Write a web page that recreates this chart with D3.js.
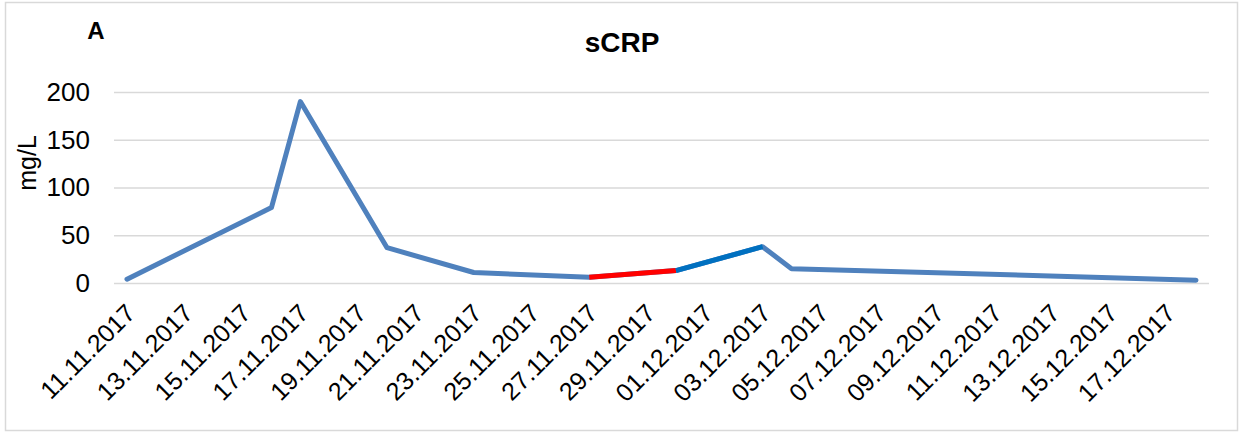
<!DOCTYPE html>
<html>
<head>
<meta charset="utf-8">
<script src="https://cdn.jsdelivr.net/npm/d3@7"></script>
<style>
  body { margin: 0; background: #fff; }
  svg { font-family: "Liberation Sans", Arial, sans-serif; }
</style>
</head>
<body>
<svg id="chart" width="1243" height="433"></svg>
<script>
// sampling dates and sCRP values (mg/L)
const dates = ["11.11.2017", "16.11.2017", "17.11.2017", "20.11.2017", "23.11.2017",
               "27.11.2017", "30.11.2017", "03.12.2017", "04.12.2017", "18.12.2017"];
const values = [4, 79, 190, 37, 11, 6, 13, 38, 15, 3];
// colour of each segment i -> i+1
const segColors = ["#4F81BD", "#4F81BD", "#4F81BD", "#4F81BD", "#4F81BD",
                   "#FF0000", "#0070C0", "#4F81BD", "#4F81BD"];
const yTicks = [0, 50, 100, 150, 200];
const axisStart = "11.11.2017", axisEnd = "18.12.2017";

const parse = d3.timeParse("%d.%m.%Y");
const fmt = d3.timeFormat("%d.%m.%Y");

const svg = d3.select("#chart");

// outer frame
svg.append("rect")
    .attr("x", 5.5).attr("y", 2.5)
    .attr("width", 1232).attr("height", 428)
    .attr("fill", "#fff")
    .attr("stroke", "#D9D9D9")
    .attr("stroke-width", 1.5);

const x = d3.scaleTime()
    .domain([parse(axisStart), parse(axisEnd)])
    .range([127, 1196]);

const y = d3.scaleLinear()
    .domain([0, 200])
    .range([283, 92]);

// gridlines + y labels
const yAxis = svg.append("g")
    .attr("transform", "translate(114,0)")
    .call(d3.axisLeft(y).tickValues(yTicks).tickSize(-1095).tickPadding(24));
yAxis.select(".domain").remove();
yAxis.selectAll("line").attr("stroke", "#D9D9D9").attr("stroke-width", 1.5);
yAxis.selectAll("text")
    .attr("font-size", 26)
    .attr("fill", "#000")
    .attr("font-family", "Liberation Sans, Arial, sans-serif");

// x labels every 2 days
const tickDates = d3.timeDay.range(parse(axisStart), parse(axisEnd), 2);
svg.append("g").selectAll("text")
    .data(tickDates)
    .join("text")
    .attr("transform", d => `translate(${x(d) - 3},${302}) rotate(-45)`)
    .attr("text-anchor", "end")
    .attr("dy", "0.72em")
    .attr("font-size", 25)
    .attr("fill", "#000")
    .text(d => fmt(d));

// line
const pts = dates.map((d, i) => [x(parse(d)), y(values[i])]);
const line = d3.line();

svg.append("path")
    .attr("d", line(pts))
    .attr("fill", "none")
    .attr("stroke", "#4F81BD")
    .attr("stroke-width", 5)
    .attr("stroke-linejoin", "round")
    .attr("stroke-linecap", "round");

svg.append("g").selectAll("path")
    .data(d3.range(pts.length - 1).filter(i => segColors[i] !== "#4F81BD"))
    .join("path")
    .attr("d", i => line([pts[i], pts[i + 1]]))
    .attr("fill", "none")
    .attr("stroke", i => segColors[i])
    .attr("stroke-width", 5)
    .attr("stroke-linecap", "butt");

// titles
svg.append("text")
    .attr("x", 622).attr("y", 52)
    .attr("text-anchor", "middle")
    .attr("font-size", 28)
    .attr("font-weight", "bold")
    .text("sCRP");

svg.append("text")
    .attr("x", 96).attr("y", 39)
    .attr("text-anchor", "middle")
    .attr("font-size", 24)
    .attr("font-weight", "bold")
    .text("A");

svg.append("text")
    .attr("transform", "translate(36,163) rotate(-90)")
    .attr("text-anchor", "middle")
    .attr("font-size", 25)
    .text("mg/L");
</script>
</body>
</html>
